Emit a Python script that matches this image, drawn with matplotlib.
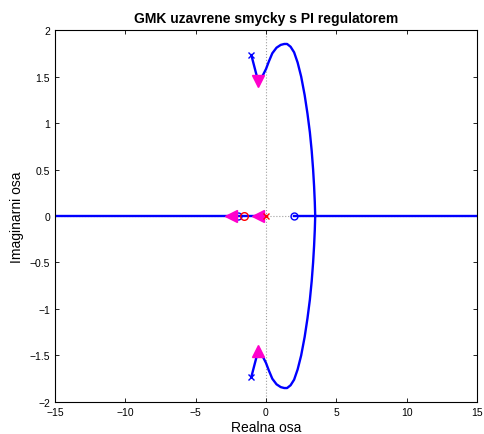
import numpy as np
import matplotlib.pyplot as plt

plt.rcParams['font.family'] = ['Liberation Sans', 'DejaVu Sans']

# upper complex branch of the locus, lower one is its mirror
branch_re = [-1.04, -0.92, -0.80, -0.68, -0.55, -0.40, -0.20, 0.00, 0.20, 0.45,
             0.75, 1.05, 1.30, 1.50, 1.75, 2.00, 2.25, 2.50, 2.75, 2.95,
             3.12, 3.25, 3.35, 3.42, 3.47, 3.50]
branch_im = [1.73, 1.66, 1.59, 1.52, 1.45, 1.47, 1.52, 1.58, 1.66, 1.75,
             1.81, 1.84, 1.85, 1.85, 1.82, 1.76, 1.65, 1.50, 1.30, 1.10,
             0.90, 0.70, 0.50, 0.32, 0.15, 0.00]

# real-axis segments of the locus
real_left = [-15.0, 0.0]
real_right = [2.0, 15.0]

# open-loop poles / zeros
plant_poles_re = [-1.04, -1.04]
plant_poles_im = [1.73, -1.73]
plant_zeros_re = [2.0, -1.97]
pi_pole_re = [0.0]
pi_zero_re = [-1.55]

# direction arrows
arrow_left_re = [-2.5, -0.6]
arrow_down = (-0.55, 1.45)
arrow_up = (-0.55, -1.45)

fig = plt.figure(figsize=(4.84, 4.35), dpi=100)
ax = fig.add_axes([0.1136, 0.0736, 0.8719, 0.8551])

ax.axvline(0, color='#a0a0a0', linestyle=':', linewidth=0.8, zorder=0)
ax.axhline(0, color='#a0a0a0', linestyle=':', linewidth=0.8, zorder=0)

blue = '#0000ff'
lw = 1.7
ax.plot(branch_re, branch_im, color=blue, linewidth=lw)
ax.plot(branch_re, -np.array(branch_im), color=blue, linewidth=lw)
ax.plot(real_left, [0, 0], color=blue, linewidth=lw)
ax.plot(real_right, [0, 0], color=blue, linewidth=lw)

ax.plot(plant_poles_re, plant_poles_im, linestyle='none', marker='x', markersize=4.5,
        color=blue, markeredgewidth=1, zorder=5)
ax.plot(plant_zeros_re, [0, 0], linestyle='none', marker='o', markersize=5,
        markerfacecolor='none', markeredgecolor=blue, markeredgewidth=1, zorder=5)

mag = '#ff00cc'
ax.plot(arrow_left_re, [0, 0], linestyle='none', marker='<', markersize=9,
        color=mag, markeredgecolor=mag, zorder=6)
ax.plot([arrow_down[0]], [arrow_down[1]], linestyle='none', marker='v', markersize=9,
        color=mag, zorder=6)
ax.plot([arrow_up[0]], [arrow_up[1]], linestyle='none', marker='^', markersize=9,
        color=mag, zorder=6)

ax.plot(pi_pole_re, [0], linestyle='none', marker='x', markersize=5,
        color='red', markeredgewidth=1, zorder=7)
ax.plot(pi_zero_re, [0], linestyle='none', marker='o', markersize=5.5,
        markerfacecolor='none', markeredgecolor='red', markeredgewidth=1, zorder=7)

ax.set_xlim(-15, 15)
ax.set_ylim(-2, 2)
ax.set_xticks([-15, -10, -5, 0, 5, 10, 15])
ax.set_yticks([-2, -1.5, -1, -0.5, 0, 0.5, 1, 1.5, 2])
ax.set_yticklabels(['\u22122', '\u22121.5', '\u22121', '\u22120.5', '0', '0.5', '1', '1.5', '2'])
ax.set_xticklabels(['\u221215', '\u221210', '\u22125', '0', '5', '10', '15'])
ax.tick_params(direction='in', top=True, right=True, labelsize=7.5, length=3, width=0.6)
for s in ax.spines.values():
    s.set_linewidth(0.8)

ax.set_title('GMK uzavrene smycky s PI regulatorem', fontsize=10, fontweight='bold', pad=6)
ax.set_xlabel('Realna osa', fontsize=10, labelpad=2)
ax.set_ylabel('Imaginarni osa', fontsize=10, labelpad=4)

fig.savefig('out.png', dpi=100)
